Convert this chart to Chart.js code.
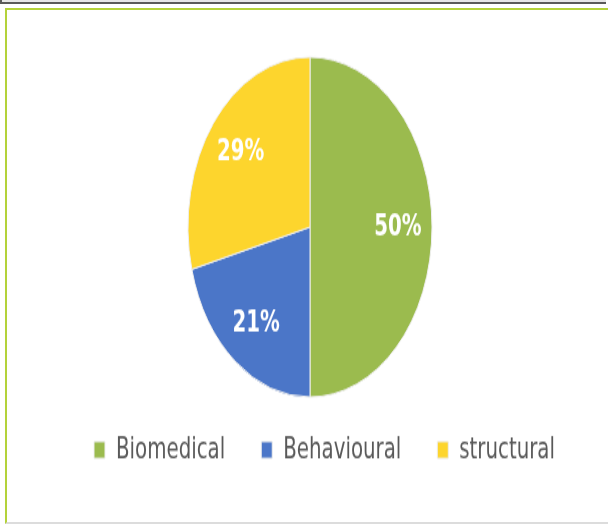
<!DOCTYPE html>
<html lang="en">
<head>
    <meta charset="UTF-8">
    <title>Intervention types</title>
    <script src="https://cdn.jsdelivr.net/npm/chart.js"></script>
    <style>
        html, body { margin: 0; padding: 0; background: #fff; }
        body { width: 608px; height: 526px; position: relative; overflow: hidden; }
        .topbar {
            position: absolute; left: 0; top: 0; width: 604px; height: 2px;
            background: #e6e6e6; border-bottom: 2px solid #5a5a5a; border-left: 2px solid #5a5a5a;
        }
        .frame {
            position: absolute; left: 5px; top: 8px; width: 620px; height: 512px;
            border: 2px solid #b4d23a; border-bottom: 2px solid #dcdcdc;
            z-index: 2; pointer-events: none;
        }
        /* the original picture is stretched vertically, so is the chart */
        .wrap {
            position: absolute; left: 0; top: 0; width: 608px; height: 378px;
            transform: scaleY(1.393); transform-origin: 0 0;
        }
    </style>
</head>
<body>
    <div class="topbar"></div>
    <div class="frame"></div>
    <div class="wrap"><canvas id="pie"></canvas></div>

    <script>
    const labels = ['Biomedical', 'Behavioural', 'structural'];
    const values = [50, 21, 29];
    const colors = ['#9bbb4e', '#4b76c8', '#fdd52d'];

    const FONT = '"DejaVu Sans Condensed", "Liberation Sans Narrow", sans-serif';

    // white percentage labels inside the slices
    const sliceLabels = {
        id: 'sliceLabels',
        afterDatasetsDraw(chart) {
            const ctx = chart.ctx;
            const meta = chart.getDatasetMeta(0);
            ctx.save();
            ctx.fillStyle = '#ffffff';
            ctx.font = 'bold 22px ' + FONT;
            ctx.textAlign = 'center';
            ctx.textBaseline = 'middle';
            meta.data.forEach((arc, i) => {
                const p = arc.getProps(['x', 'y', 'startAngle', 'endAngle', 'outerRadius'], true);
                const mid = (p.startAngle + p.endAngle) / 2;
                const r = p.outerRadius * 0.72;
                ctx.fillText(values[i] + '%', p.x + Math.cos(mid) * r, p.y + Math.sin(mid) * r);
            });
            ctx.restore();
        }
    };

    new Chart(document.getElementById('pie'), {
        type: 'pie',
        data: {
            labels: labels,
            datasets: [{
                data: values,
                backgroundColor: colors,
                borderColor: '#eeeeee',
                borderWidth: 1,
                radius: 122
            }]
        },
        options: {
            responsive: true,
            maintainAspectRatio: false,
            animation: false,
            layout: { padding: { left: 45, right: 4, top: 50, bottom: 34 } },
            plugins: {
                tooltip: { enabled: false },
                // empty title on the right, only there to push the pie a bit left of the legend
                title: {
                    display: true,
                    position: 'right',
                    fullSize: false,
                    text: ' ',
                    font: { size: 10, lineHeight: 1 },
                    padding: { top: 9.5, bottom: 9.5 }
                },
                legend: {
                    position: 'bottom',
                    labels: {
                        boxWidth: 11,
                        boxHeight: 12,
                        padding: 36,
                        color: '#595959',
                        font: { family: FONT, size: 22 }
                    }
                }
            }
        },
        plugins: [sliceLabels]
    });
    </script>
</body>
</html>
